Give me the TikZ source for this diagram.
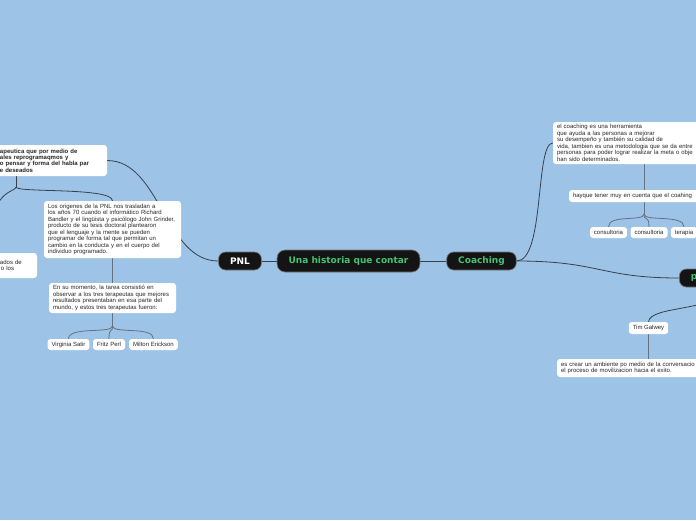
\documentclass[tikz,border=0pt]{standalone}
\usepackage{fontspec}
\newfontfamily\mapfont{Liberation Sans}
\newfontfamily\headfont{DejaVu Sans}
\definecolor{fondo}{RGB}{157,195,231}
\definecolor{verde}{RGB}{66,196,116}
\definecolor{linea}{RGB}{55,65,78}
\definecolor{lineagris}{RGB}{100,115,132}
\pgfdeclarelayer{bg}
\pgfdeclarelayer{lineas}
\pgfsetlayers{bg,lineas,main}

\begin{document}
\begin{tikzpicture}[x=1pt, y=-1pt,
    topic/.style={fill=black!92, draw=black!55, line width=0.7pt, rounded corners=7pt,
        font=\headfont\bfseries\fontsize{9}{11}\selectfont, text=verde,
        inner xsep=11.5pt, inner ysep=0pt, minimum height=18pt},
    idea/.style={fill=white, rounded corners=3pt, inner xsep=4pt, inner ysep=0pt,
        align=left, text=black!85, font=\mapfont\fontsize{6}{6.5}\selectfont},
    leaf/.style={idea, minimum height=11pt},
    link/.style={draw=linea, line width=0.8pt},
    sublink/.style={draw=lineagris, line width=0.8pt}]
    \useasboundingbox (0,0) rectangle (696,520);
    \clip (0,0) rectangle (696,520);
    \begin{pgfonlayer}{bg}
        \fill[fondo] (0,0) rectangle (696,520);
    \end{pgfonlayer}

    % centro
    \node[topic, minimum height=22pt, rounded corners=8pt] (centro) at (348.5,261) {Una historia que contar};
    \node[topic, text=white] (pnl) at (240,261) {PNL};
    \node[topic] (coach) at (481.5,261) {Coaching};
    \node[topic, anchor=west, text width=67pt, align=left] (proc) at (679,278) {p};

    % rama pnl
    \node[idea, font=\mapfont\bfseries\fontsize{6}{6.4}\selectfont, text width=174pt, minimum height=31pt] (terapia) at (16,160.5)
        {\hspace*{71pt}apeutica que por medio de\\ \hspace*{71pt}ales reprogramaqmos y\\
         \hspace*{71pt}o pensar y forma del habla par\\ \hspace*{71pt}e deseados};
    \node[idea, text width=89pt, minimum height=25pt] (izq) at (-11.5,265.5)
        {\hspace*{56pt}ados de\\ \hspace*{57pt}o los};
    \node[idea, text width=129pt, minimum height=57pt] (origen) at (112.5,229.5)
        {Los origenes de la PNL nos trasladan a\\ los años 70 cuando el informático Richard\\
         Bandler y el lingüista y psicólogo John Grinder,\\ producto de su tesis doctoral plantearon\\
         que el lenguaje y la mente se pueden\\ programar de forma tal que permitan un\\
         cambio en la conducta y en el cuerpo del\\ individuo programado.};
    \node[idea, text width=119pt, minimum height=30pt] (momento) at (112.5,298)
        {En su momento, la tarea consistió en\\ observar a los tres terapeutas que mejores\\
         resultados presentaban en esa parte del\\ mundo, y estos tres terapeutas fueron:};
    \node[leaf] (satir) at (68.5,344.5) {Virginia Satir};
    \node[leaf] (perl) at (109,344.5) {Fritz Perl};
    \node[leaf] (erickson) at (153.5,344.5) {Milton Erickson};

    % rama coaching
    \node[idea, text width=174pt, minimum height=42pt] (herram) at (644,143)
        {el coaching es una herramienta\\ que ayuda a las personas a mejorar\\
         su desempeño y también su calidad de\\ vida, tambien es una metodologia que se da entre\\
         personas para poder lograr realizar la meta o obje\\ han sido determinados.};
    \node[idea, text width=142pt, minimum height=12pt] (tener) at (644,196) {hayque tener muy en cuenta que el coahing};
    \node[leaf] (cons1) at (608.5,232.5) {consultoria};
    \node[leaf] (cons2) at (649,232.5) {consultoria};
    \node[leaf] (ter) at (684,232.5) {terapia};
    \node[leaf, minimum height=12pt] (galwey) at (648.5,328) {Tim Galwey};
    \node[idea, text width=176pt, minimum height=18pt] (ambiente) at (649,368)
        {es crear un ambiente po medio de la conversacio\\ el proceso de movilizacion hacia el exito.};

    % conectores
    \begin{pgfonlayer}{lineas}
        \draw[link] (pnl) -- (centro);
        \draw[link] (centro) -- (coach);
        \draw[link] (coach.east) .. controls (600,261) and (600,278) .. (proc.west);
        \draw[link] (coach.east) .. controls (545,261) and (535,143) .. (herram.west);
        \draw[link] (pnl.west) .. controls (165,261) and (160,160.5) .. (terapia.east);

        \coordinate (fk1) at (16,187);
        \draw[link] (terapia.south) -- (fk1);
        \draw[link] (fk1) .. controls (16,193) and (origen.north |- fk1) .. (origen.north);
        \draw[link] (fk1) .. controls (16,193) and (izq.north |- fk1) .. (izq.north);

        \draw[sublink] (origen) -- (momento);
        \coordinate (fk2) at (112.5,326);
        \draw[sublink] (momento.south) -- (fk2);
        \foreach \n in {satir,perl,erickson}{
            \draw[sublink] (fk2) .. controls (112.5,334) and (\n.north |- fk2) .. (\n.north);
        }

        \draw[sublink] (herram) -- (tener);
        \coordinate (fk3) at (644,214);
        \draw[sublink] (tener.south) -- (fk3);
        \foreach \n in {cons1,cons2,ter}{
            \draw[sublink] (fk3) .. controls (644,222) and (\n.north |- fk3) .. (\n.north);
        }

        \draw[link] (proc.south) .. controls (719,312) and (650,305) .. (galwey.north);
        \draw[sublink] (galwey.south) -- (galwey.south |- ambiente.north);
    \end{pgfonlayer}
\end{tikzpicture}
\end{document}
